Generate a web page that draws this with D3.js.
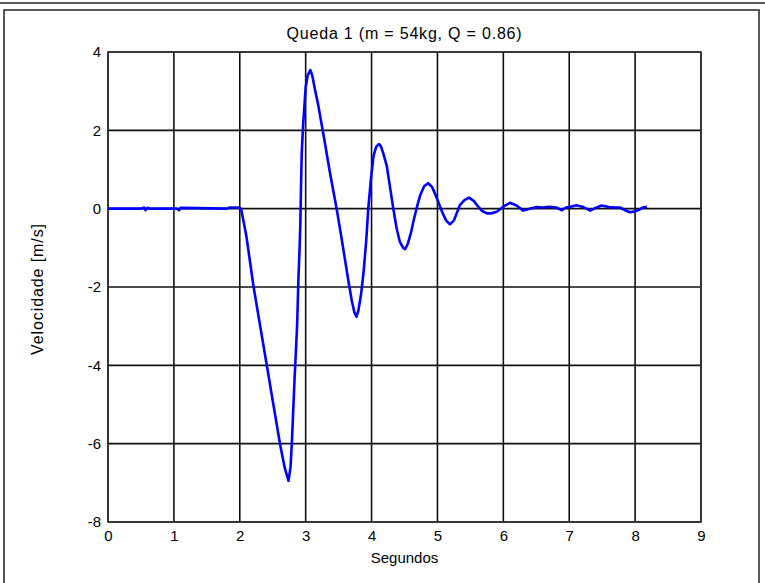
<!DOCTYPE html>
<html>
<head>
<meta charset="utf-8">
<script src="https://cdn.jsdelivr.net/npm/d3@7"></script>
<style>
  html, body { margin: 0; padding: 0; background: #fff; }
  svg { display: block; }
  text { font-family: "Liberation Sans", Arial, Helvetica, sans-serif; fill: #000; }
</style>
</head>
<body>
<svg id="chart" width="765" height="583"></svg>
<script>
// Fall test 1: velocity of the load over time
const titleText = "Queda 1 (m = 54kg, Q = 0.86)";
const xLabel = "Segundos";
const yLabel = "Velocidade [m/s]";

const xTicks = [0, 1, 2, 3, 4, 5, 6, 7, 8, 9];
const yTicks = [-8, -6, -4, -2, 0, 2, 4];

// time samples [s]
const time = [
  0, 0.5, 0.55, 0.57, 0.6, 0.65, 1.05, 1.08, 1.1, 1.8, 1.85, 1.98, 2.02,
  2.1, 2.21, 2.3, 2.41, 2.51, 2.61, 2.68, 2.74,
  2.77, 2.79, 2.81, 2.83, 2.85, 2.87, 2.89, 2.91, 2.92, 2.93, 2.94, 2.96, 2.98, 3.0, 3.03, 3.07,
  3.1, 3.14, 3.19, 3.25, 3.3, 3.36, 3.42, 3.47, 3.53, 3.59, 3.65, 3.7, 3.74, 3.77,
  3.8, 3.84, 3.88, 3.92, 3.95, 3.99, 4.03, 4.07, 4.11, 4.14, 4.18, 4.23, 4.28, 4.33,
  4.38, 4.43, 4.48, 4.51, 4.55, 4.6, 4.64, 4.69, 4.74, 4.8, 4.86, 4.92, 4.99, 5.07,
  5.13, 5.19, 5.25, 5.34, 5.41, 5.48, 5.55, 5.62, 5.68, 5.75, 5.82, 5.9, 6.0, 6.1,
  6.2, 6.3, 6.4, 6.51, 6.6, 6.7, 6.8, 6.89, 6.95, 7.02, 7.11, 7.2, 7.32, 7.4, 7.49,
  7.6, 7.7, 7.77, 7.85, 7.92, 8.0, 8.07, 8.12, 8.18
];

// measured velocity [m/s]
const velocity = [
  0, 0, 0.03, -0.04, 0.02, 0, 0, -0.04, 0.02, 0, 0.03, 0.03, 0,
  -0.7, -2.0, -2.9, -4.0, -5.0, -6.0, -6.6, -6.95,
  -6.6, -6.0, -5.2, -4.4, -3.7, -3.0, -1.8, -0.9, -0.3, 0.6, 1.4, 2.1, 2.6, 3.1, 3.4, 3.54,
  3.4, 3.05, 2.65, 2.08, 1.6, 1.0, 0.45, 0, -0.6, -1.23, -1.86, -2.35, -2.65, -2.76,
  -2.6, -2.2, -1.6, -0.8, 0, 0.75, 1.35, 1.58, 1.65, 1.6, 1.4, 1.1, 0.55, 0,
  -0.5, -0.85, -1.0, -1.03, -0.9, -0.6, -0.29, 0.05, 0.35, 0.58, 0.65, 0.55, 0.27, -0.08,
  -0.3, -0.4, -0.3, 0.09, 0.22, 0.28, 0.2, 0.05, -0.06, -0.12, -0.12, -0.08, 0.05, 0.15,
  0.08, -0.05, 0, 0.04, 0.03, 0.05, 0.03, -0.04, 0.03, 0.05, 0.09, 0.05, -0.05, 0.02, 0.08,
  0.04, 0.03, 0.03, -0.04, -0.09, -0.07, -0.02, 0.03, 0.05
];

const svg = d3.select("#chart");
const W = 765, H = 583;
const plot = { left: 108, right: 701, top: 52, bottom: 522 };

// figure frame
svg.append("line")
  .attr("x1", 0).attr("x2", W).attr("y1", 3).attr("y2", 3)
  .attr("stroke", "#222").attr("stroke-width", 1.5);
svg.append("rect")
  .attr("x", 4).attr("y", 10).attr("width", 755).attr("height", H)
  .attr("fill", "none").attr("stroke", "#222").attr("stroke-width", 1.5);

const x = d3.scaleLinear().domain([0, 9]).range([plot.left, plot.right]);
const y = d3.scaleLinear().domain([-8, 4]).range([plot.bottom, plot.top]);

// grid
const grid = svg.append("g");
grid.selectAll("line.vx").data(xTicks).join("line")
  .attr("x1", d => x(d)).attr("x2", d => x(d))
  .attr("y1", plot.top).attr("y2", plot.bottom)
  .attr("stroke", "#111").attr("stroke-width", 1.6);
grid.selectAll("line.hy").data(yTicks).join("line")
  .attr("x1", plot.left).attr("x2", plot.right)
  .attr("y1", d => y(d)).attr("y2", d => y(d))
  .attr("stroke", "#111").attr("stroke-width", 1.6);

// axes (plain hyphen for negatives)
const fmt = d => String(d);
const xAxis = d3.axisBottom(x).tickValues(xTicks).tickSize(0).tickPadding(8).tickFormat(fmt);
const yAxis = d3.axisLeft(y).tickValues(yTicks).tickSize(0).tickPadding(7).tickFormat(fmt);

const gx = svg.append("g").attr("transform", `translate(0,${plot.bottom})`).call(xAxis);
const gy = svg.append("g").attr("transform", `translate(${plot.left},0)`).call(yAxis);
[gx, gy].forEach(g => {
  g.select(".domain").remove();
  g.selectAll("text").attr("font-size", 15).attr("font-family", "Liberation Sans, Arial, sans-serif").attr("fill", "#000");
});

// box
svg.append("rect")
  .attr("x", plot.left).attr("y", plot.top)
  .attr("width", plot.right - plot.left).attr("height", plot.bottom - plot.top)
  .attr("fill", "none").attr("stroke", "#333").attr("stroke-width", 1.6);

// velocity trace
const data = time.map((t, i) => ({ t, v: velocity[i] }));
svg.append("path")
  .datum(data)
  .attr("fill", "none")
  .attr("stroke", "#0000ff")
  .attr("stroke-width", 2.6)
  .attr("stroke-linejoin", "round")
  .attr("d", d3.line().x(d => x(d.t)).y(d => y(d.v)));

// labels
svg.append("text")
  .attr("x", (plot.left + plot.right) / 2).attr("y", 39)
  .attr("text-anchor", "middle").attr("font-size", 16).attr("letter-spacing", 0.8)
  .text(titleText);
svg.append("text")
  .attr("x", (plot.left + plot.right) / 2).attr("y", 563)
  .attr("text-anchor", "middle").attr("font-size", 15)
  .text(xLabel);
svg.append("text")
  .attr("transform", `translate(43,${(plot.top + plot.bottom) / 2 + 2}) rotate(-90)`)
  .attr("text-anchor", "middle").attr("font-size", 16).attr("letter-spacing", 0.9)
  .text(yLabel);
</script>
</body>
</html>
